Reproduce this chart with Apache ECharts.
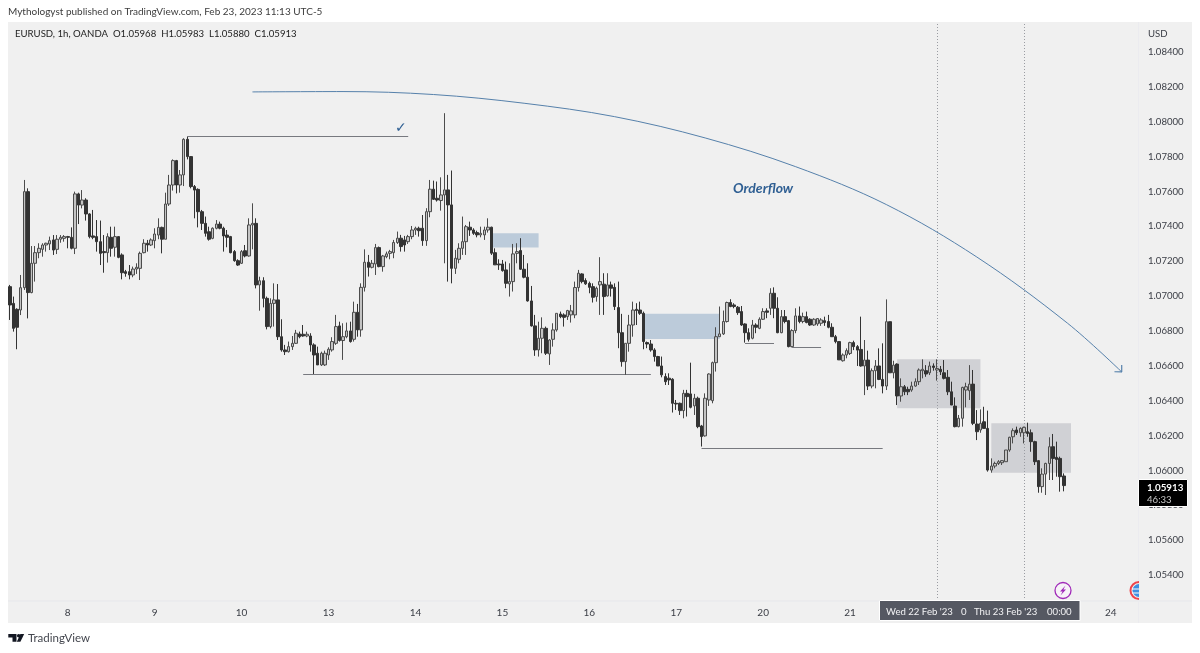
<!DOCTYPE html>
<html>
<head>
<meta charset="utf-8">
<style>html,body{margin:0;padding:0;background:#fff}#chart{width:1200px;height:653px}</style>
<script src="https://cdn.jsdelivr.net/npm/echarts@6/dist/echarts.min.js"></script>
</head>
<body>
<div id="chart"></div>
<script>
// EURUSD hourly candles, one array per trading session: [open, close, low, high]
const feb07 = [
[1.07054,1.06949,1.06863,1.07064],[1.06958,1.06815,1.06796,1.06997],[1.06924,1.06821,1.06695,1.06930],[1.06920,1.07048,1.06891,1.07121],
[1.07048,1.07599,1.07035,1.07666],[1.07599,1.07020,1.06872,1.07618],[1.07020,1.07188,1.07016,1.07287],[1.07188,1.07249,1.07083,1.07287],
[1.07249,1.07274,1.07217,1.07303],[1.07268,1.07293,1.07226,1.07303],[1.07293,1.07303,1.07255,1.07306],[1.07299,1.07318,1.07264,1.07341],
[1.07322,1.07264,1.07236,1.07350],[1.07268,1.07326,1.07241,1.07350],[1.07326,1.07337,1.07306,1.07350],[1.07331,1.07341,1.07312,1.07350]];
const feb08 = [
[1.07341,1.07337,1.07274,1.07345],[1.07337,1.07274,1.07268,1.07394],[1.07274,1.07586,1.07241,1.07599],[1.07586,1.07522,1.07413,1.07593],
[1.07522,1.07551,1.07503,1.07608],[1.07551,1.07471,1.07433,1.07561],[1.07471,1.07341,1.07331,1.07475],[1.07345,1.07337,1.07326,1.07494],
[1.07341,1.07312,1.07255,1.07436],[1.07312,1.07245,1.07178,1.07433],[1.07255,1.07249,1.07134,1.07350],[1.07249,1.07341,1.07192,1.07360],
[1.07337,1.07274,1.07226,1.07398],[1.07280,1.07341,1.07226,1.07398],[1.07341,1.07222,1.07217,1.07341],[1.07236,1.07134,1.07096,1.07245],
[1.07140,1.07130,1.07111,1.07150],[1.07140,1.07121,1.07096,1.07178],[1.07121,1.07155,1.07108,1.07169],[1.07155,1.07165,1.07127,1.07188],
[1.07159,1.07245,1.07092,1.07255],[1.07249,1.07303,1.07245,1.07326],[1.07303,1.07293,1.07255,1.07322],[1.07293,1.07322,1.07287,1.07331]];
const feb09 = [
[1.07318,1.07356,1.07274,1.07389],[1.07350,1.07394,1.07326,1.07446],[1.07394,1.07326,1.07245,1.07398],[1.07326,1.07528,1.07326,1.07593],
[1.07528,1.07637,1.07517,1.07695],[1.07637,1.07777,1.07605,1.07784],[1.07777,1.07637,1.07589,1.07781],[1.07637,1.07695,1.07593,1.07723],
[1.07695,1.07899,1.07631,1.07905],[1.07899,1.07800,1.07784,1.07914],[1.07800,1.07628,1.07618,1.07803],[1.07628,1.07608,1.07446,1.07637],
[1.07612,1.07484,1.07394,1.07618],[1.07484,1.07417,1.07379,1.07494],[1.07417,1.07360,1.07341,1.07456],[1.07369,1.07326,1.07318,1.07398],
[1.07331,1.07389,1.07326,1.07394],[1.07389,1.07413,1.07383,1.07436],[1.07413,1.07389,1.07383,1.07427],[1.07389,1.07345,1.07255,1.07398],
[1.07350,1.07337,1.07280,1.07379],[1.07341,1.07249,1.07245,1.07345],[1.07255,1.07203,1.07197,1.07264],[1.07203,1.07178,1.07173,1.07211]];
const feb10 = [
[1.07188,1.07255,1.07184,1.07264],[1.07260,1.07230,1.07222,1.07293],[1.07230,1.07408,1.07226,1.07446],[1.07408,1.07417,1.07268,1.07532],
[1.07417,1.07064,1.07044,1.07446],[1.07064,1.07088,1.06916,1.07111],[1.07088,1.06987,1.06935,1.07108],[1.06987,1.06825,1.06809,1.06997],
[1.06825,1.06958,1.06815,1.06987],[1.06958,1.06978,1.06825,1.07073],[1.06978,1.06767,1.06748,1.07069],[1.06767,1.06691,1.06681,1.06867],
[1.06691,1.06681,1.06662,1.06720],[1.06681,1.06710,1.06676,1.06739],[1.06710,1.06729,1.06691,1.06771],[1.06729,1.06787,1.06725,1.06806],
[1.06783,1.06767,1.06758,1.06796],[1.06781,1.06771,1.06767,1.06834],[1.06771,1.06781,1.06764,1.06796],[1.06771,1.06720,1.06681,1.06787],
[1.06720,1.06662,1.06553,1.06729],[1.06672,1.06605,1.06605,1.06710],[1.06605,1.06672,1.06599,1.06681],[1.06605,1.06672,1.06599,1.06687]];
const feb13 = [
[1.06662,1.06695,1.06634,1.06706],[1.06691,1.06739,1.06681,1.06764],[1.06729,1.06825,1.06720,1.06892],[1.06829,1.06745,1.06739,1.06853],
[1.06745,1.06767,1.06634,1.06844],[1.06767,1.06800,1.06758,1.06848],[1.06800,1.06739,1.06733,1.06853],[1.06752,1.06907,1.06739,1.06968],
[1.06907,1.06806,1.06767,1.06955],[1.06806,1.07050,1.06767,1.07073],[1.07050,1.07194,1.07026,1.07268],[1.07194,1.07165,1.07112,1.07236],
[1.07165,1.07188,1.07159,1.07207],[1.07184,1.07278,1.07121,1.07299],[1.07278,1.07169,1.07165,1.07284],[1.07169,1.07230,1.07140,1.07236],
[1.07226,1.07242,1.07217,1.07255],[1.07245,1.07255,1.07211,1.07265],[1.07249,1.07307,1.07217,1.07322],[1.07307,1.07332,1.07299,1.07370],
[1.07332,1.07284,1.07255,1.07351],[1.07322,1.07293,1.07255,1.07345],[1.07312,1.07341,1.07299,1.07351],[1.07341,1.07379,1.07326,1.07402]];
const feb14 = [
[1.07379,1.07389,1.07351,1.07398],[1.07389,1.07375,1.07341,1.07398],[1.07389,1.07318,1.07288,1.07465],[1.07318,1.07484,1.07288,1.07504],
[1.07484,1.07613,1.07452,1.07666],[1.07613,1.07555,1.07551,1.07662],[1.07561,1.07551,1.07542,1.07657],[1.07548,1.07580,1.07490,1.07681],
[1.07580,1.07609,1.07188,1.08049],[1.07609,1.07523,1.07083,1.07695],[1.07523,1.07159,1.07073,1.07720],[1.07159,1.07217,1.07127,1.07265],
[1.07211,1.07274,1.07188,1.07303],[1.07274,1.07312,1.07236,1.07456],[1.07312,1.07398,1.07236,1.07408],[1.07395,1.07379,1.07345,1.07427],
[1.07379,1.07360,1.07351,1.07389],[1.07364,1.07351,1.07337,1.07375],[1.07351,1.07360,1.07337,1.07398],[1.07351,1.07379,1.07322,1.07398],
[1.07379,1.07395,1.07364,1.07446],[1.07395,1.07246,1.07236,1.07398],[1.07249,1.07179,1.07179,1.07274],[1.07184,1.07179,1.07150,1.07211]];
const feb15 = [
[1.07184,1.07146,1.07140,1.07207],[1.07150,1.07073,1.07045,1.07198],[1.07070,1.07083,1.06997,1.07188],[1.07083,1.07242,1.07026,1.07299],
[1.07245,1.07255,1.07188,1.07303],[1.07261,1.07154,1.07150,1.07332],[1.07154,1.07108,1.07102,1.07236],[1.07108,1.06972,1.06968,1.07188],
[1.06972,1.06829,1.06825,1.07058],[1.06829,1.06691,1.06657,1.06892],[1.06691,1.06758,1.06653,1.06853],[1.06758,1.06815,1.06672,1.06878],
[1.06815,1.06672,1.06662,1.06825],[1.06668,1.06748,1.06605,1.06752],[1.06752,1.06806,1.06710,1.06844],[1.06806,1.06901,1.06796,1.06901],
[1.06897,1.06882,1.06873,1.06911],[1.06892,1.06878,1.06825,1.06901],[1.06882,1.06917,1.06863,1.06921],[1.06892,1.06915,1.06848,1.06949],
[1.06892,1.07049,1.06873,1.07083],[1.07049,1.07131,1.07026,1.07150],[1.07127,1.07083,1.07073,1.07131],[1.07089,1.07070,1.07064,1.07102]];
const feb16 = [
[1.07073,1.07050,1.07016,1.07083],[1.07054,1.06993,1.06963,1.07073],[1.06997,1.07045,1.06968,1.07054],[1.07064,1.07083,1.06892,1.07223],
[1.07068,1.06997,1.06892,1.07131],[1.07001,1.07064,1.06997,1.07131],[1.07064,1.07045,1.06997,1.07083],[1.07050,1.06940,1.06920,1.07073],
[1.06934,1.06790,1.06701,1.07083],[1.06790,1.06624,1.06595,1.06898],[1.06624,1.06729,1.06548,1.06729],[1.06729,1.06834,1.06681,1.06892],
[1.06834,1.06920,1.06767,1.06968],[1.06924,1.06917,1.06834,1.06959],[1.06920,1.06901,1.06892,1.06968],[1.06901,1.06739,1.06695,1.06911],
[1.06733,1.06725,1.06701,1.06739],[1.06725,1.06691,1.06681,1.06748],[1.06691,1.06653,1.06624,1.06701],[1.06653,1.06599,1.06599,1.06657],
[1.06599,1.06548,1.06534,1.06653],[1.06538,1.06509,1.06490,1.06557],[1.06529,1.06519,1.06490,1.06557],[1.06523,1.06385,1.06332,1.06529]];
const feb17 = [
[1.06385,1.06381,1.06347,1.06404],[1.06385,1.06343,1.06318,1.06389],[1.06343,1.06442,1.06299,1.06462],[1.06442,1.06423,1.06309,1.06462],
[1.06439,1.06362,1.06356,1.06618],[1.06370,1.06414,1.06318,1.06439],[1.06414,1.06251,1.06242,1.06423],[1.06255,1.06194,1.06137,1.06261],
[1.06198,1.06414,1.06194,1.06442],[1.06404,1.06553,1.06370,1.06557],[1.06400,1.06618,1.06385,1.06624],[1.06618,1.06767,1.06567,1.06821],
[1.06767,1.06783,1.06767,1.06940],[1.06783,1.06854,1.06777,1.06917],[1.06854,1.06963,1.06848,1.06968],[1.06963,1.06940,1.06936,1.06982],
[1.06949,1.06940,1.06930,1.06959],[1.06936,1.06905,1.06892,1.06943],[1.06911,1.06834,1.06829,1.06943],[1.06840,1.06790,1.06733,1.06844],
[1.06790,1.06752,1.06739,1.06815],[1.06758,1.06834,1.06752,1.06863],[1.06834,1.06821,1.06787,1.06844],[1.06815,1.06867,1.06810,1.06878]];
const feb20 = [
[1.06867,1.06911,1.06863,1.06930],[1.06915,1.06907,1.06873,1.06930],[1.06930,1.07016,1.06892,1.07045],[1.07016,1.06930,1.06873,1.07050],
[1.06930,1.06790,1.06787,1.06993],[1.06790,1.06882,1.06787,1.06920],[1.06882,1.06854,1.06844,1.06920],[1.06859,1.06710,1.06706,1.06863],
[1.06710,1.06802,1.06706,1.06810],[1.06802,1.06886,1.06787,1.06930],[1.06886,1.06854,1.06844,1.06940],[1.06854,1.06882,1.06844,1.06905],
[1.06882,1.06848,1.06844,1.06911],[1.06867,1.06834,1.06829,1.06873],[1.06834,1.06867,1.06829,1.06873],[1.06840,1.06871,1.06829,1.06873],
[1.06844,1.06863,1.06829,1.06873],[1.06859,1.06848,1.06829,1.06882],[1.06854,1.06821,1.06815,1.06892],[1.06821,1.06767,1.06767,1.06844],
[1.06767,1.06739,1.06729,1.06777],[1.06739,1.06634,1.06634,1.06739],[1.06629,1.06662,1.06624,1.06671],[1.06662,1.06687,1.06643,1.06700]];
const feb21 = [
[1.06671,1.06733,1.06662,1.06738],[1.06733,1.06710,1.06690,1.06744],[1.06710,1.06690,1.06599,1.06719],[1.06694,1.06599,1.06595,1.06882],
[1.06599,1.06633,1.06432,1.06748],[1.06633,1.06484,1.06461,1.06687],[1.06484,1.06572,1.06471,1.06585],[1.06572,1.06599,1.06471,1.06633],
[1.06599,1.06522,1.06518,1.06700],[1.06522,1.06484,1.06442,1.06729],[1.06484,1.06853,1.06461,1.06981],[1.06853,1.06560,1.06560,1.06853],
[1.06560,1.06604,1.06528,1.06629],[1.06610,1.06427,1.06375,1.06614],[1.06427,1.06480,1.06394,1.06528],[1.06480,1.06451,1.06432,1.06490],
[1.06465,1.06451,1.06432,1.06480],[1.06461,1.06484,1.06451,1.06509],[1.06484,1.06509,1.06480,1.06528],[1.06509,1.06576,1.06490,1.06585],
[1.06572,1.06580,1.06528,1.06637],[1.06572,1.06553,1.06537,1.06604],[1.06560,1.06599,1.06547,1.06624],[1.06599,1.06591,1.06572,1.06614]];
const feb22 = [
[1.06576,1.06585,1.06515,1.06637],[1.06580,1.06566,1.06547,1.06599],[1.06560,1.06528,1.06522,1.06633],[1.06534,1.06451,1.06432,1.06576],
[1.06451,1.06375,1.06375,1.06509],[1.06369,1.06251,1.06247,1.06419],[1.06251,1.06299,1.06247,1.06318],[1.06299,1.06476,1.06251,1.06480],
[1.06461,1.06480,1.06362,1.06503],[1.06457,1.06495,1.06404,1.06604],[1.06495,1.06270,1.06260,1.06576],[1.06266,1.06222,1.06174,1.06346],
[1.06232,1.06270,1.06216,1.06350],[1.06279,1.06241,1.06241,1.06365],[1.06241,1.06002,1.05993,1.06343],[1.06002,1.06025,1.05987,1.06069],
[1.06025,1.06040,1.06012,1.06050],[1.06040,1.06050,1.06031,1.06059],[1.06044,1.06056,1.06031,1.06059],[1.06050,1.06117,1.06050,1.06117],
[1.06117,1.06190,1.06107,1.06193],[1.06193,1.06228,1.06155,1.06241],[1.06232,1.06216,1.06203,1.06251],[1.06216,1.06241,1.06193,1.06247]];
const feb23 = [
[1.06216,1.06247,1.06155,1.06251],[1.06222,1.06212,1.06193,1.06274],[1.06216,1.06165,1.06107,1.06235],[1.06165,1.06050,1.06031,1.06170],
[1.06056,1.05907,1.05872,1.06059],[1.05907,1.05979,1.05872,1.06012],[1.05979,1.06040,1.05859,1.06044],[1.06040,1.06136,1.05945,1.06190],
[1.06136,1.06069,1.05945,1.06209],[1.06075,1.06063,1.05964,1.06165],[1.06069,1.05964,1.05878,1.06079],[1.05968,1.05913,1.05880,1.05983]];

const candles = [].concat(feb07, feb08, feb09, feb10, feb13, feb14, feb15, feb16, feb17, feb20, feb21, feb22, feb23);

const priceTicks = [1.054,1.056,1.058,1.060,1.062,1.064,1.066,1.068,1.070,1.072,1.074,1.076,1.078,1.080,1.082,1.084];
const crosshairBars = [256, 280];

// Hourly slots from the first bar on; the weekend closure is left out, and the
// axis keeps running past the last bar as empty space on the right.
const categoryCount = 312;
const categories = [];
for (let t = Date.UTC(2023, 1, 7, 8); categories.length < categoryCount; t += 3600000) {
  const d = new Date(t), wd = d.getUTCDay(), h = d.getUTCHours();
  if (wd === 6 || (wd === 5 && h >= 17) || (wd === 0 && h < 17)) continue;
  categories.push(d.getUTCDate() + ' ' + String(h).padStart(2, '0') + ':00');
}

// Drawn levels: [first bar, last bar, price]
const levelLines = [
  [49, 110, 1.07914], [81, 177, 1.06553], [191, 241, 1.06127], [203, 211, 1.06729], [216, 224, 1.06706]
];
// Shaded zones: [first bar, last bar, top price, bottom price]
const supplyZones = [[133, 146, 1.07360, 1.07278], [175, 196, 1.06898, 1.06754]];
const rangeZones = [[245, 268, 1.06637, 1.06356], [271, 293, 1.06270, 1.05987]];
// Hand-drawn arc: [bar, price]
const arcPoints = [
  [67,1.08171],[92,1.08173],[117,1.08156],[142,1.08106],[167,1.08029],[192,1.07907],
  [217,1.07742],[242,1.07525],[267,1.07224],[292,1.06845],[307,1.06565]
];
const arrowHead = [[305,1.06566],[307,1.06565],[307,1.06605]];

const FONT = 'Lato, "Noto Sans", sans-serif';
const ink = '#222222', axisInk = '#3a3d45', noteBlue = '#2f5f93', arcBlue = '#5681ab';
const last = candles[candles.length - 1];
const legendText = 'EURUSD, 1h, OANDA  O' + last[0].toFixed(5) + '  H' + last[3].toFixed(5) +
  '  L' + last[2].toFixed(5) + '  C' + last[1].toFixed(5);

const zoneItems = (zones, color) => zones.map(z => [
  { xAxis: z[0], yAxis: z[2], itemStyle: { color: color, opacity: 1 } },
  { xAxis: z[1], yAxis: z[3] }
]);

const chart = echarts.init(document.getElementById('chart'), null, { renderer: 'canvas' });

function text(x, y, str, opts) {
  return {
    type: 'text', x: x, y: y, z: (opts && opts.z) || 10, silent: true,
    style: Object.assign({ text: str, font: '9.6px ' + FONT, fill: axisInk, textVerticalAlign: 'middle' }, opts && opts.style)
  };
}

chart.setOption({
  animation: false,
  backgroundColor: '#ffffff',
  grid: { left: 8, right: 62, top: 22, bottom: 52, containLabel: false },
  xAxis: {
    type: 'category', data: categories, boundaryGap: true,
    axisLine: { show: false }, axisTick: { show: false }, splitLine: { show: false },
    axisLabel: {
      color: axisInk, fontFamily: FONT, fontSize: 10, margin: 7,
      interval: (i, v) => v.endsWith(' 00:00'), formatter: v => v.split(' ')[0]
    }
  },
  yAxis: {
    type: 'value', position: 'right', min: 1.05251, max: 1.08572, scale: true,
    axisLine: { show: false }, axisTick: { show: false }, splitLine: { show: false },
    axisLabel: {
      customValues: priceTicks, color: axisInk, fontFamily: FONT, fontSize: 9.6, margin: 10,
      formatter: v => v.toFixed(5)
    }
  },
  series: [
    {
      type: 'candlestick', name: 'EURUSD', data: candles, barWidth: 3, z: 3,
      itemStyle: { color: '#c4c4c4', color0: '#333333', borderColor: '#4c4c4c', borderColor0: '#333333', borderWidth: 1 },
      markArea: {
        silent: true, z: 1,
        data: zoneItems(supplyZones, '#bccbda').concat(zoneItems(rangeZones, '#d0d1d5'))
      },
      markLine: {
        silent: true, symbol: 'none', animation: false, label: { show: false }, z: 2,
        data: levelLines.map(l => [
          { xAxis: l[0], yAxis: l[2], lineStyle: { color: '#77797f', width: 1, type: 'solid' } },
          { xAxis: l[1], yAxis: l[2] }
        ]).concat(crosshairBars.map(b => ({
          xAxis: b, lineStyle: { color: '#9a9ca2', width: 1, type: [1, 2] }
        })))
      },
      markPoint: {
        silent: true, symbol: 'circle', symbolSize: 0, animation: false,
        data: [
          { coord: [208, 1.07615], label: { show: true, position: 'inside', formatter: 'Orderflow', color: noteBlue, fontFamily: FONT, fontSize: 14, fontStyle: 'italic', fontWeight: 'bold', letterSpacing: 1.1 } },
          { coord: [108, 1.07960], label: { show: true, position: 'inside', formatter: '✓', color: noteBlue, fontFamily: '"DejaVu Sans"', fontSize: 14 } }
        ]
      }
    },
    {
      type: 'line', data: arcPoints, smooth: 0.35, smoothMonotone: 'none', showSymbol: false, symbol: 'none', silent: true, z: 4,
      lineStyle: { color: arcBlue, width: 1 }
    },
    {
      type: 'line', data: arrowHead, showSymbol: false, symbol: 'none', silent: true, z: 4,
      lineStyle: { color: arcBlue, width: 1.2 }
    }
  ],
  graphic: [
    { type: 'rect', silent: true, z: -5, shape: { x: 8, y: 22, width: 1184, height: 601 }, style: { fill: '#f0f0f0' } },
    { type: 'line', silent: true, z: -4, shape: { x1: 8, y1: 601, x2: 1192, y2: 601 }, style: { stroke: '#e6e7eb', lineWidth: 1 } },
    { type: 'line', silent: true, z: -4, shape: { x1: 1138.5, y1: 22, x2: 1138.5, y2: 623 }, style: { stroke: '#ebebef', lineWidth: 1 } },

    text(8, 12, 'Mythologyst published on TradingView.com, Feb 23, 2023 11:13 UTC-5', { style: { fill: '#3d3d3d', font: '10px ' + FONT } }),
    text(15, 34, legendText, { style: { fill: ink } }),
    text(1148, 34, 'USD', {}),

    // crosshair time labels
    { type: 'rect', silent: true, z: 20, shape: { x: 879.5, y: 600.5, width: 200.5, height: 20 }, style: { fill: '#555862', stroke: '#ffffff', lineWidth: 1 } },
    text(886, 612, "Wed 22 Feb '23", { z: 21, style: { fill: '#f2f2f4' } }),
    text(961, 612, '0', { z: 21, style: { fill: '#f2f2f4' } }),
    text(974, 612, "Thu 23 Feb '23", { z: 21, style: { fill: '#f2f2f4' } }),
    text(1047, 612, '00:00', { z: 21, style: { fill: '#f2f2f4' } }),

    // last price tag
    { type: 'rect', silent: true, z: 20, shape: { x: 1138.5, y: 479.5, width: 49, height: 27 }, style: { fill: '#000000', stroke: '#ffffff', lineWidth: 1 } },
    text(1147, 488, last[1].toFixed(5), { z: 21, style: { fill: '#ffffff', font: 'bold 9.8px ' + FONT } }),
    text(1147, 499.5, '46:33', { z: 21, style: { fill: '#c8c8c8' } }),

    // lightning event badge
    { type: 'circle', silent: true, z: 10, shape: { cx: 1063, cy: 590.5, r: 8 }, style: { fill: '#f7f3f8', stroke: '#a02ab8', lineWidth: 1.3 } },
    { type: 'polygon', silent: true, z: 11, shape: { points: [[1065.5,585.5],[1060,591.5],[1062.6,591.5],[1060.5,595.5],[1066,589.5],[1063.4,589.5]] }, style: { fill: '#a02ab8' } },
    // country event badge, cut by the price scale
    { type: 'sector', silent: true, z: 10, shape: { cx: 1139, cy: 590.5, r: 9.5, r0: 7.5, startAngle: Math.PI / 2, endAngle: Math.PI * 1.5 }, style: { fill: '#f0444b' } },
    { type: 'sector', silent: true, z: 10, shape: { cx: 1139, cy: 590.5, r: 6.5, r0: 0, startAngle: Math.PI / 2, endAngle: Math.PI * 1.5 }, style: { fill: '#3f8fe0' } },
    { type: 'line', silent: true, z: 11, shape: { x1: 1132, y1: 589, x2: 1139, y2: 589 }, style: { stroke: '#ffffff', lineWidth: 1 } },
    { type: 'line', silent: true, z: 11, shape: { x1: 1132, y1: 593, x2: 1139, y2: 593 }, style: { stroke: '#ffffff', lineWidth: 1 } },

    // brand mark
    { type: 'polygon', silent: true, z: 10, shape: { points: [[8.3,634],[16.5,634],[16.5,641.8],[12.5,641.8],[12.5,637.6],[8.3,637.6]] }, style: { fill: '#131722' } },
    { type: 'circle', silent: true, z: 10, shape: { cx: 18.7, cy: 635.8, r: 1.8 }, style: { fill: '#131722' } },
    { type: 'polygon', silent: true, z: 10, shape: { points: [[20.4,634],[24.2,634],[20.4,641.8],[16.8,641.8]] }, style: { fill: '#131722' } },
    text(28, 638.5, 'TradingView', { style: { font: '11.5px ' + FONT, fill: '#44474f' } })
  ]
});
</script>
</body>
</html>
